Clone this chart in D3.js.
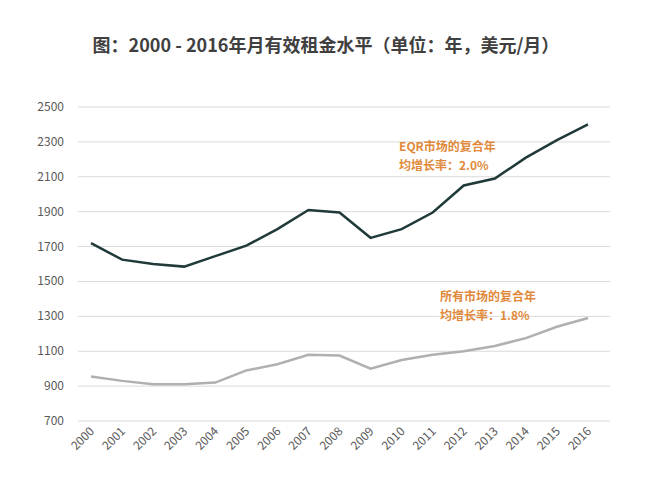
<!DOCTYPE html>
<html><head><meta charset="utf-8">
<script src="https://cdn.jsdelivr.net/npm/d3@7"></script>
<style>body{margin:0;background:#fff;font-family:"Noto Sans CJK SC","Noto Sans",sans-serif;}</style>
</head><body><svg id="c" width="650" height="494"></svg>
<script>
var years = d3.range(2000, 2017).map(String);
var eqr = [1720, 1625, 1600, 1585, 1645, 1705, 1800, 1910, 1895, 1750, 1800, 1895, 2050, 2090, 2210, 2310, 2400];
var allMkt = [955, 930, 910, 910, 920, 990, 1025, 1080, 1075, 1000, 1050, 1080, 1100, 1130, 1175, 1240, 1290];
var yTicks = [700, 900, 1100, 1300, 1500, 1700, 1900, 2100, 2300, 2500];

var svg = d3.select('#c');
var x = d3.scalePoint().domain(years).range([91, 588]);
var y = d3.scaleLinear().domain([700, 2500]).range([421, 107]);

svg.append('text').attr('x', 326).attr('y', 52).attr('text-anchor', 'middle')
    .attr('font-size', 18).attr('font-weight', 'bold').attr('fill', '#404040')
    .text('图：2000 - 2016年月有效租金水平（单位：年，美元/月）');

svg.selectAll('line.grid').data(yTicks).enter().append('line')
    .attr('x1', 78).attr('x2', 610)
    .attr('y1', function(d) { return y(d); }).attr('y2', function(d) { return y(d); })
    .attr('stroke', '#d9d9d9').attr('stroke-width', 1);

svg.selectAll('text.yl').data(yTicks).enter().append('text')
    .attr('x', 64).attr('y', function(d) { return y(d) + 4; })
    .attr('text-anchor', 'end').attr('font-size', 12).attr('fill', '#595959')
    .text(function(d) { return d; });

svg.selectAll('text.xl').data(years).enter().append('text')
    .attr('transform', function(d) { return 'translate(' + (x(d) + 4) + ',432) rotate(-45)'; })
    .attr('text-anchor', 'end').attr('font-size', 12).attr('fill', '#595959')
    .text(function(d) { return d; });

var line = d3.line().x(function(d, i) { return x(years[i]); }).y(function(d) { return y(d); });
svg.append('path').datum(eqr).attr('d', line).attr('fill', 'none')
    .attr('stroke', '#203a3a').attr('stroke-width', 2.5);
svg.append('path').datum(allMkt).attr('d', line).attr('fill', 'none')
    .attr('stroke', '#b0b0b0').attr('stroke-width', 2.5);

function note(tx, ty, lines) {
    svg.append('text').attr('x', tx).attr('y', ty).attr('font-size', 12)
        .attr('fill', '#e0893a').attr('font-weight', 'bold')
        .selectAll('tspan').data(lines).enter().append('tspan')
        .attr('x', tx).attr('dy', function(d, i) { return i ? 19 : 0; })
        .text(function(d) { return d; });
}
note(399, 151, ['EQR市场的复合年', '均增长率：2.0%']);
note(440, 301, ['所有市场的复合年', '均增长率：1.8%']);
</script></body></html>
